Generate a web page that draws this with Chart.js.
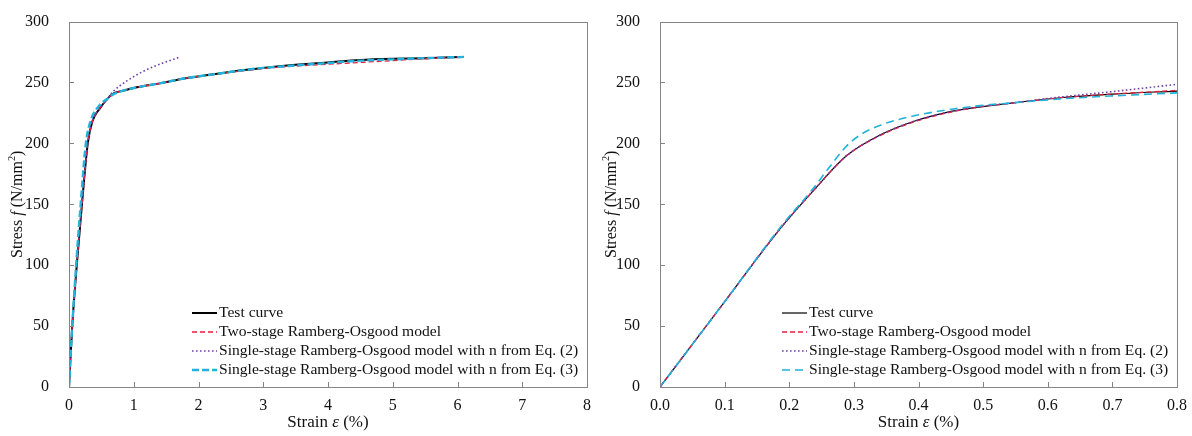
<!DOCTYPE html>
<html>
<head>
<meta charset="utf-8">
<script src="https://cdn.jsdelivr.net/npm/chart.js@4.4.1/dist/chart.umd.min.js"></script>
<style>
  body { margin: 0; background: #fff; }
  #left { position: absolute; left: 0; top: 0; }
  #right { position: absolute; left: 600px; top: 0; }
</style>
</head>
<body>
<canvas id="left" width="600" height="436"></canvas>
<canvas id="right" width="592" height="436"></canvas>
<script>
// series labels
const seriesNames = [
    'Test curve',
    'Two-stage Ramberg-Osgood model',
    'Single-stage Ramberg-Osgood model with n from Eq. (2)',
    'Single-stage Ramberg-Osgood model with n from Eq. (3)'
];

// LEFT CHART (full range)
const leftTestStrain = [0, 0.05, 0.12, 0.2, 0.29, 0.36, 0.48, 0.6, 0.69, 0.85, 1.0, 1.42, 1.8, 2.2, 2.67, 3.0, 3.5, 4.0, 4.5, 5.0, 5.5, 6.1];
const leftTestStress = [0, 50, 100, 150, 200, 218, 229, 237, 241, 243.5, 245.5, 249.5, 253.5, 256.5, 260, 262, 264.5, 266.5, 268.5, 269.5, 270, 271];
const leftTwoStageStrain = [0, 0.05, 0.12, 0.2, 0.29, 0.36, 0.48, 0.6, 0.69, 0.85, 1.0, 1.42, 1.8, 2.2, 2.67, 3.0, 3.5, 4.0, 4.5, 5.0, 5.5, 6.1];
const leftTwoStageStress = [0, 50, 100, 150, 200, 218, 229, 237, 241, 243.5, 245.5, 249.5, 253.5, 256.5, 259.5, 261.5, 263.5, 265, 266.5, 268, 269.5, 271];
const leftEq2Strain = [0, 0.05, 0.12, 0.2, 0.29, 0.36, 0.48, 0.6, 0.69, 0.9, 1.16, 1.4, 1.72];
const leftEq2Stress = [0, 50, 100, 150, 200, 218, 229, 237, 243, 251.5, 259.5, 265, 271];
const leftEq3Strain = [0, 0.05, 0.11, 0.18, 0.26, 0.33, 0.45, 0.6, 0.69, 0.85, 1.0, 1.42, 1.8, 2.2, 2.67, 3.0, 3.5, 4.0, 4.5, 5.0, 5.5, 6.1];
const leftEq3Stress = [0, 50, 100, 150, 200, 218, 230, 237, 240.5, 243.5, 245.5, 249.5, 253.5, 256.5, 260, 262, 264, 266, 268, 269, 270, 271];

// RIGHT CHART (zoom on small strains)
const rightTestStrain = [0, 0.1, 0.186, 0.237, 0.289, 0.341, 0.392, 0.444, 0.495, 0.55, 0.619, 0.7, 0.8];
const rightTestStress = [0, 70, 130, 161, 190, 207, 218, 225.5, 230, 233.5, 237.5, 240.5, 243];
const rightTwoStageStrain = [0, 0.1, 0.186, 0.237, 0.289, 0.341, 0.392, 0.444, 0.495, 0.55, 0.619, 0.7, 0.8];
const rightTwoStageStress = [0, 70, 130, 161, 190, 206.5, 217.5, 225, 230, 233.5, 237.5, 240.5, 243.5];
const rightEq2Strain = [0, 0.1, 0.186, 0.237, 0.289, 0.341, 0.392, 0.444, 0.495, 0.55, 0.619, 0.7, 0.8];
const rightEq2Stress = [0, 70, 130, 161, 190, 207, 218, 225.5, 230, 233.5, 238, 242.5, 248.5];
const rightEq3Strain = [0, 0.1, 0.186, 0.237, 0.26, 0.289, 0.31, 0.341, 0.392, 0.444, 0.495, 0.55, 0.619, 0.7, 0.8];
const rightEq3Stress = [0, 70, 131, 163, 179, 198, 207, 215, 222.5, 227.5, 231, 233.5, 236.5, 239, 241.5];

// tick values
const leftXTicks = [0, 1, 2, 3, 4, 5, 6, 7, 8];
const rightXTicks = [0, 0.1, 0.2, 0.3, 0.4, 0.5, 0.6, 0.7, 0.8];
const yTicks = [0, 50, 100, 150, 200, 250, 300];

const FONT = "'Liberation Serif', 'Times New Roman', serif";
const RED = '#e4203c';
const PURPLE = '#7040a8';
const CYAN = '#22b2dc';

function pts(xs, ys) {
    return xs.map((x, i) => ({ x: x, y: ys[i] }));
}

// draw text made of pieces (some italic / superscript)
function richText(ctx, parts, size) {
    let w = 0;
    parts.forEach(p => {
        ctx.font = (p.it ? 'italic ' : '') + (p.sup ? size * 0.65 : size) + 'px ' + FONT;
        p.w = ctx.measureText(p.t).width;
        w += p.w;
    });
    let x = -w / 2;
    parts.forEach(p => {
        ctx.font = (p.it ? 'italic ' : '') + (p.sup ? size * 0.65 : size) + 'px ' + FONT;
        ctx.fillText(p.t, x, p.sup ? -size * 0.35 : 0);
        x += p.w;
    });
}

const decor = {
    id: 'decor',
    afterDraw(chart, args, o) {
        const { ctx, chartArea: a, scales: { x, y } } = chart;
        ctx.save();
        // box
        ctx.strokeStyle = '#858585';
        ctx.lineWidth = 1;
        ctx.setLineDash([]);
        ctx.strokeRect(Math.round(a.left) + 0.5, Math.round(a.top) + 0.5, Math.round(a.right - a.left), Math.round(a.bottom - a.top));
        // inward ticks
        ctx.beginPath();
        x.ticks.forEach(t => {
            const px = Math.round(x.getPixelForValue(t.value)) + 0.5;
            ctx.moveTo(px, a.bottom);
            ctx.lineTo(px, a.bottom - 5);
        });
        y.ticks.forEach(t => {
            const py = Math.round(y.getPixelForValue(t.value)) + 0.5;
            ctx.moveTo(a.left, py);
            ctx.lineTo(a.left + 5, py);
        });
        ctx.stroke();

        // axis titles
        ctx.fillStyle = '#111';
        ctx.textAlign = 'left';
        ctx.textBaseline = 'middle';
        ctx.save();
        ctx.translate(a.left - o.yTitleOffset, (a.top + a.bottom) / 2);
        ctx.rotate(-Math.PI / 2);
        richText(ctx, [{ t: 'Stress ' }, { t: 'f', it: true }, { t: ' (N/mm' }, { t: '2', sup: true }, { t: ')' }], 16);
        ctx.restore();
        ctx.save();
        ctx.translate((a.left + a.right) / 2, a.bottom + 36);
        richText(ctx, [{ t: 'Strain ' }, { t: 'ε', it: true }, { t: ' (%)' }], 17);
        ctx.restore();

        // legend inside plot
        chart.data.datasets.forEach((ds, i) => {
            const ly = a.bottom - 74 + i * 19;
            const lx = a.left + o.legendX;
            ctx.strokeStyle = ds.borderColor;
            ctx.lineWidth = ds.borderWidth;
            ctx.setLineDash(ds.borderDash || []);
            ctx.beginPath();
            ctx.moveTo(lx, ly);
            ctx.lineTo(lx + 25, ly);
            ctx.stroke();
            ctx.setLineDash([]);
            ctx.fillStyle = '#111';
            ctx.font = '15.6px ' + FONT;
            ctx.fillText(ds.label, lx + 27, ly);
        });
        ctx.restore();
    }
};

function makeChart(id, sets, xMax, xTicks, xDigits, yWidth, rightPad, widths, opts) {
    return new Chart(document.getElementById(id), {
        type: 'scatter',
        data: {
            datasets: [
                { label: seriesNames[0], data: sets[0], borderColor: '#000', borderWidth: widths[0], order: 3 },
                { label: seriesNames[1], data: sets[1], borderColor: RED, borderWidth: 1.3, borderDash: [5, 3], order: 2 },
                { label: seriesNames[2], data: sets[2], borderColor: PURPLE, borderWidth: 1.6, borderDash: [1.6, 2.4], order: 1 },
                { label: seriesNames[3], data: sets[3], borderColor: CYAN, borderWidth: widths[1], borderDash: widths[2], order: 0 }
            ].map(d => Object.assign(d, {
                showLine: true,
                pointRadius: 0,
                pointHoverRadius: 0,
                backgroundColor: 'transparent',
                cubicInterpolationMode: 'monotone'
            }))
        },
        options: {
            responsive: false,
            animation: false,
            devicePixelRatio: 1,
            layout: { padding: { top: 16, right: rightPad, left: 0, bottom: 0 } },
            plugins: {
                legend: { display: false },
                tooltip: { enabled: false },
                decor: opts
            },
            scales: {
                x: {
                    type: 'linear',
                    min: 0,
                    max: xMax,
                    afterBuildTicks: s => { s.ticks = xTicks.map(v => ({ value: v })); },
                    afterFit: s => { s.height = 49; },
                    grid: { display: false },
                    border: { display: false },
                    ticks: {
                        color: '#111',
                        padding: 1,
                        maxRotation: 0,
                        font: { family: FONT, size: 16 },
                        callback: v => v.toFixed(xDigits)
                    }
                },
                y: {
                    type: 'linear',
                    min: 0,
                    max: 300,
                    afterBuildTicks: s => { s.ticks = yTicks.map(v => ({ value: v })); },
                    afterFit: s => { s.width = yWidth; },
                    grid: { display: false },
                    border: { display: false },
                    ticks: {
                        color: '#111',
                        padding: 12,
                        font: { family: FONT, size: 16 }
                    }
                }
            }
        },
        plugins: [decor]
    });
}

makeChart('left', [
    pts(leftTestStrain, leftTestStress),
    pts(leftTwoStageStrain, leftTwoStageStress),
    pts(leftEq2Strain, leftEq2Stress),
    pts(leftEq3Strain, leftEq3Stress)
], 8, leftXTicks, 0, 69, 13, [2, 2.4, [7, 3]], { yTitleOffset: 51, legendX: 123 });

makeChart('right', [
    pts(rightTestStrain, rightTestStress),
    pts(rightTwoStageStrain, rightTwoStageStress),
    pts(rightEq2Strain, rightEq2Stress),
    pts(rightEq3Strain, rightEq3Stress)
], 0.8, rightXTicks, 1, 60, 15, [1.2, 1.6, [8, 5]], { yTitleOffset: 48, legendX: 122 });
</script>
</body>
</html>
